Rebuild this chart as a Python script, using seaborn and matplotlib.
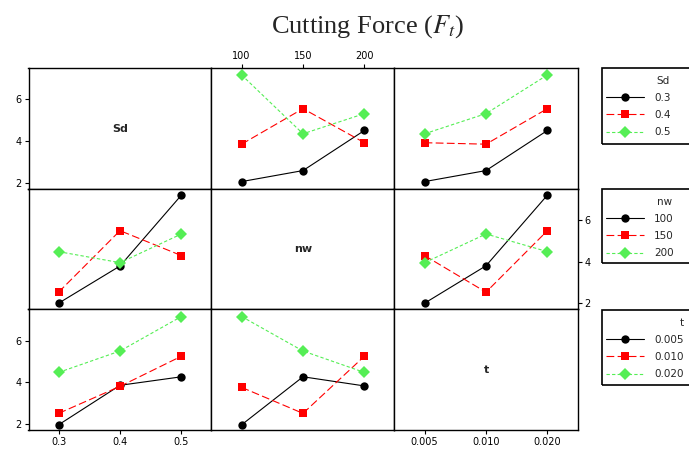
import pandas as pd
import seaborn as sns
import matplotlib.pyplot as plt
from matplotlib.patches import Rectangle

# factor levels
sd_levels = ["0.3", "0.4", "0.5"]
nw_levels = ["100", "150", "200"]
t_levels = ["0.005", "0.010", "0.020"]

# mean cutting force, rows = level of the line factor, cols = level of the x factor
sd_vs_nw = [[2.05, 2.58, 4.51], [3.85, 5.56, 3.92], [7.18, 4.35, 5.32]]
sd_vs_t = [[2.05, 2.58, 4.51], [3.92, 3.85, 5.56], [4.35, 5.32, 7.18]]
nw_vs_sd = [[2.00, 3.79, 7.20], [2.53, 5.49, 4.29], [4.48, 3.95, 5.33]]
nw_vs_t = [[2.00, 3.80, 7.20], [4.29, 2.53, 5.49], [3.95, 5.33, 4.48]]
t_vs_sd = [[1.95, 3.85, 4.26], [2.50, 3.80, 5.25], [4.47, 5.50, 7.16]]
t_vs_nw = [[1.95, 4.26, 3.82], [3.75, 2.50, 5.25], [7.16, 5.50, 4.47]]

factors = ["Sd", "nw", "t"]
levels = {"Sd": sd_levels, "nw": nw_levels, "t": t_levels}
panels = {(0, 1): sd_vs_nw, (0, 2): sd_vs_t,
          (1, 0): nw_vs_sd, (1, 2): nw_vs_t,
          (2, 0): t_vs_sd, (2, 1): t_vs_nw}

colors = ["black", "#ff0000", "#55ee55"]
marks = ["o", "s", "D"]
dash_styles = ["", (7, 3), (3, 2)]

sns.set_theme(style="ticks")
plt.rcParams["font.family"] = ["DejaVu Sans"]
plt.rcParams["mathtext.fontset"] = "stix"

W, H = 689, 451
fig, axes = plt.subplots(3, 3, figsize=(6.89, 4.51), dpi=100)
fig.subplots_adjust(left=28.5 / W, right=(28.5 + 3 * 183) / W,
                    bottom=21 / H, top=1 - 68.3 / H, wspace=0, hspace=0)

# legend boxes (top, bottom) in pixels and title x centre
legend_boxes = [(68, 144), (189, 263), (310, 385)]
legend_title_x = [663, 665, 682]

for r in range(3):
    row_levels = levels[factors[r]]
    handles = None
    for c in range(3):
        ax = axes[r, c]
        ax.set_xlim(-0.49, 2.49)
        ax.set_ylim(1.7, 7.5)
        ax.set_xticks([])
        ax.set_yticks([])
        for sp in ax.spines.values():
            sp.set_color("black")
            sp.set_linewidth(1)
        if r == c:
            ax.text(0.5, 0.5, factors[r], transform=ax.transAxes, ha="center",
                    va="center", fontsize=8, fontweight="bold")
        else:
            means = panels[(r, c)]
            df = pd.DataFrame([(j, means[i][j], row_levels[i])
                               for i in range(3) for j in range(3)],
                              columns=["pos", "force", "level"])
            sns.lineplot(data=df, x="pos", y="force", hue="level", style="level",
                         hue_order=row_levels, style_order=row_levels,
                         palette=dict(zip(row_levels, colors)),
                         markers=dict(zip(row_levels, marks)),
                         dashes=dict(zip(row_levels, dash_styles)),
                         errorbar=None, lw=0.8, markersize=6,
                         markeredgewidth=0, ax=ax, legend=handles is None)
            if handles is None:
                handles, labels = ax.get_legend_handles_labels()
                ax.get_legend().remove()
            ax.set_xlabel("")
            ax.set_ylabel("")
        ax.tick_params(labelsize=7, length=3, width=0.8, colors="black", pad=2)

    # legend for this row, frame drawn separately so it runs off the right edge
    top, bottom = legend_boxes[r]
    fig.patches.append(Rectangle((602 / W, 1 - bottom / H), 0.2, (bottom - top) / H,
                                 transform=fig.transFigure, fill=False,
                                 ec="black", lw=1.2))
    fig.text(legend_title_x[r] / W, 1 - (top + 13) / H, factors[r],
             ha="center", va="center", fontsize=7.5)
    leg = fig.legend(handles, labels, loc="upper left",
                     bbox_to_anchor=(606 / W, 1 - (top + 25) / H),
                     borderaxespad=0, borderpad=0, fontsize=7.5,
                     handlelength=3.6, handletextpad=1.0,
                     labelspacing=0.68, frameon=False)
    for h in leg.legend_handles:
        h.set_markersize(6)

# tick labels on the outer edges, like the reference
axes[0, 0].set_yticks([2, 4, 6])
axes[2, 0].set_yticks([2, 4, 6])
axes[1, 2].set_yticks([2, 4, 6])
axes[1, 2].yaxis.tick_right()
axes[0, 1].set_xticks([0, 1, 2])
axes[0, 1].set_xticklabels(nw_levels)
axes[0, 1].xaxis.tick_top()
axes[2, 0].set_xticks([0, 1, 2])
axes[2, 0].set_xticklabels(sd_levels)
axes[2, 2].set_xticks([0, 1, 2])
axes[2, 2].set_xticklabels(t_levels)

fig.text(368 / W, 1 - 27 / H, r"Cutting Force ($F_t$)", ha="center",
         va="center", fontsize=19, family="Liberation Serif")

fig.savefig("out.png", dpi=100)
